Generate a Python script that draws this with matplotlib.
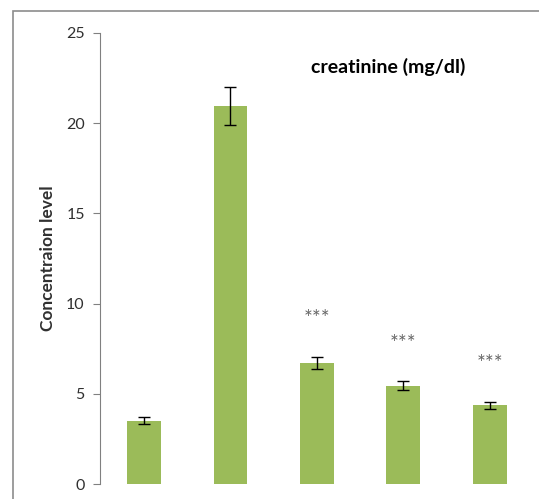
import numpy as np
import matplotlib.pyplot as plt
from matplotlib.patches import Rectangle

plt.rcParams['font.family'] = ['Lato', 'DejaVu Sans']

#%% data

groups = ['G1', 'G2', 'G3', 'G4', 'G5']
creatinine = [3.5, 20.95, 6.7, 5.45, 4.36]
sem = [0.2, 1.05, 0.35, 0.25, 0.2]
signif = ['', '', '***', '***', '***']

yticks = [0, 5, 10, 15, 20, 25]

#%% plot

fig = plt.figure(figsize=(5.39, 4.99), dpi=100)
ax = fig.add_axes([0.1855, 0.030, 0.8145, 0.904])

x = np.arange(len(groups))
ax.bar(x, creatinine, width=0.39, color='#9BBB59', zorder=2)
ax.errorbar(x, creatinine, yerr=sem, fmt='none', ecolor='black',
            elinewidth=1, capsize=4, capthick=1, zorder=3)

for xi, v, e, s in zip(x, creatinine, sem, signif):
    if s:
        ax.text(xi, v + e + 1.75, s, ha='center', va='baseline',
                fontsize=15, color='#666666')

ax.set_ylim(0, 25)
ax.set_xlim(-0.51, 4.57)
ax.set_yticks(yticks)
ax.set_xticks([])
ax.tick_params(axis='y', direction='out', length=5, width=0.8,
               color='#808080', labelsize=11.5, labelcolor='#303030', pad=6)

for side in ['top', 'right', 'bottom']:
    ax.spines[side].set_visible(False)
ax.spines['left'].set_color('#808080')
ax.spines['left'].set_linewidth(0.8)

ax.set_ylabel('Concentraion level', fontsize=12.5, fontweight='bold',
              color='#303030')
ax.yaxis.set_label_coords(-0.10, 0.5)

fig.text(388 / 539, 1 - 67 / 499, 'creatinine (mg/dl)', ha='center',
         va='center', fontsize=14, fontweight='bold', color='black')

# outer chart frame (cropped on right and bottom)
fig.patches.append(Rectangle((13 / 539, -0.1), 1.2, 1 - 11 / 499 + 0.1,
                             transform=fig.transFigure, fill=False,
                             edgecolor='#8c8c8c', linewidth=1.2))

plt.savefig('out.png', dpi=100)
plt.close()
